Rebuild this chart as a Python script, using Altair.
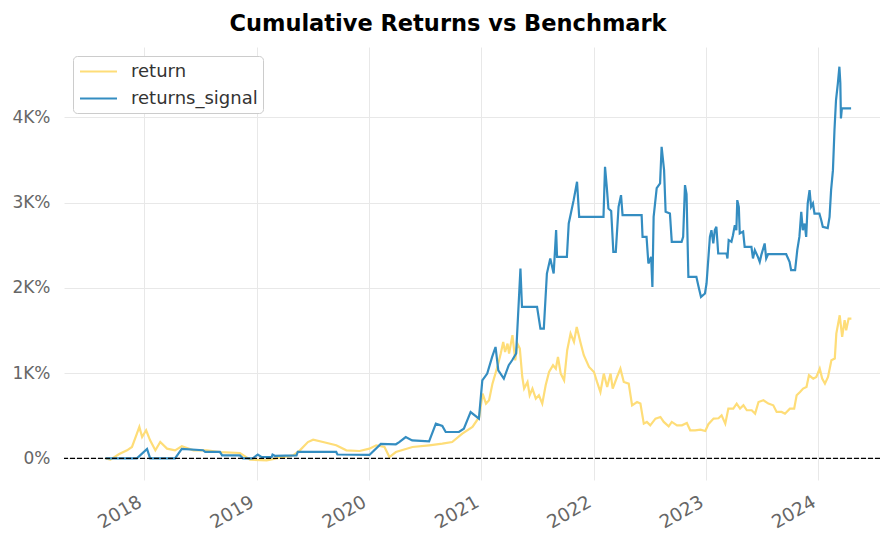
import altair as alt
import pandas as pd

# ---- data (values in percent) ----
ret_dates = [
    "2017-08-28", "2017-09-13", "2017-10-10", "2017-11-06", "2017-11-22", "2017-12-08", "2017-12-16",
    "2017-12-25", "2018-01-07", "2018-01-20", "2018-02-06", "2018-02-22", "2018-03-16", "2018-04-11",
    "2018-05-03", "2018-06-10", "2018-07-23", "2018-09-04", "2018-11-08", "2018-12-11", "2019-02-03",
    "2019-03-18", "2019-04-30", "2019-05-22", "2019-06-17", "2019-07-04", "2019-08-05", "2019-09-17",
    "2019-10-20", "2019-12-02", "2020-01-03", "2020-01-25", "2020-02-21", "2020-03-08", "2020-03-29",
    "2020-05-22", "2020-07-15", "2020-08-27", "2020-09-28", "2020-10-31", "2020-12-03", "2020-12-25",
    "2021-01-05", "2021-01-16", "2021-01-26", "2021-02-06", "2021-02-22", "2021-03-05", "2021-03-13",
    "2021-03-19", "2021-03-27", "2021-04-01", "2021-04-12", "2021-04-21", "2021-04-28", "2021-05-06",
    "2021-05-14", "2021-05-20", "2021-05-31", "2021-06-07", "2021-06-16", "2021-06-27", "2021-07-07",
    "2021-07-18", "2021-07-29", "2021-08-09", "2021-08-22", "2021-08-31", "2021-09-07", "2021-09-16",
    "2021-09-27", "2021-10-07", "2021-10-18", "2021-10-29", "2021-11-07", "2021-11-20", "2021-11-30",
    "2021-12-17", "2022-01-02", "2022-01-12", "2022-01-23", "2022-02-03", "2022-02-14", "2022-02-25",
    "2022-03-04", "2022-03-18", "2022-03-29", "2022-04-09", "2022-04-25", "2022-05-06", "2022-05-22",
    "2022-06-02", "2022-06-13", "2022-06-23", "2022-07-04", "2022-07-21", "2022-08-06", "2022-08-17",
    "2022-09-02", "2022-09-12", "2022-09-29", "2022-10-15", "2022-10-31", "2022-11-11", "2022-11-27",
    "2022-12-14", "2022-12-30", "2023-01-09", "2023-01-26", "2023-02-11", "2023-02-21", "2023-03-05",
    "2023-03-15", "2023-03-31", "2023-04-11", "2023-04-22", "2023-05-03", "2023-05-14", "2023-05-30",
    "2023-06-10", "2023-06-21", "2023-07-07", "2023-07-23", "2023-08-08", "2023-08-19", "2023-09-04",
    "2023-09-15", "2023-10-01", "2023-10-15", "2023-10-23", "2023-11-03", "2023-11-13", "2023-11-24",
    "2023-12-02", "2023-12-16", "2023-12-26", "2024-01-06", "2024-01-14", "2024-01-23", "2024-02-02",
    "2024-02-13", "2024-02-24", "2024-02-29", "2024-03-11", "2024-03-19", "2024-03-27", "2024-04-01",
    "2024-04-09", "2024-04-18",
]
ret_values = [
    0, -15, 47, 94, 133, 290, 368,
    250, 329, 211, 94, 191, 114, 94,
    141, 94, 94, 74, 63, -15, -23,
    8, 35, 94, 191, 219, 191, 153,
    94, 86, 114, 153, 133, 15, 74,
    133, 153, 172, 191, 290, 368, 485,
    759, 642, 681, 876, 1072, 1229, 1365,
    1248, 1346, 1229, 1444, 1150, 1346, 1287,
    954, 818, 896, 739, 818, 700, 739,
    642, 857, 1013, 1092, 1052, 1189, 994,
    915, 1268, 1463, 1365, 1541, 1346, 1209,
    1072, 1013, 896, 778, 994, 837, 994,
    818, 954, 1052, 896, 876, 622, 661,
    642, 407, 427, 387, 466, 485, 427,
    375, 427, 387, 387, 415, 329, 329,
    336, 320, 400, 466, 470, 505, 407,
    583, 583, 642, 583, 622, 564, 564,
    524, 661, 681, 642, 622, 544, 544,
    524, 583, 583, 739, 778, 818, 837,
    974, 935, 954, 1052, 935, 876, 954,
    1150, 1170, 1463, 1678, 1424, 1620, 1502,
    1639, 1639,
]

sig_dates = [
    "2017-08-28", "2017-12-08", "2018-01-10", "2018-01-20", "2018-04-11", "2018-05-03", "2018-07-11",
    "2018-07-18", "2018-09-04", "2018-09-11", "2018-11-08", "2018-11-18", "2018-12-20", "2019-01-05",
    "2019-01-18", "2019-02-19", "2019-02-22", "2019-03-01", "2019-05-11", "2019-05-15", "2019-09-17",
    "2019-09-21", "2020-01-03", "2020-02-09", "2020-03-29", "2020-04-09", "2020-04-30", "2020-05-21",
    "2020-07-15", "2020-08-06", "2020-08-27", "2020-09-07", "2020-10-20", "2020-11-05", "2020-11-16",
    "2020-11-27", "2020-12-24", "2021-01-04", "2021-01-20", "2021-02-05", "2021-02-16", "2021-02-25",
    "2021-03-15", "2021-03-31", "2021-04-11", "2021-04-24", "2021-05-08", "2021-05-13", "2021-07-01",
    "2021-07-12", "2021-07-23", "2021-08-02", "2021-08-13", "2021-08-24", "2021-09-01", "2021-09-04",
    "2021-10-06", "2021-10-12", "2021-10-28", "2021-11-08", "2021-11-15", "2022-02-02", "2022-02-07",
    "2022-02-13", "2022-02-18", "2022-02-27", "2022-03-06", "2022-03-14", "2022-03-23", "2022-03-31",
    "2022-04-05", "2022-06-06", "2022-06-09", "2022-06-22", "2022-06-28", "2022-07-07", "2022-07-11",
    "2022-07-15", "2022-07-25", "2022-08-05", "2022-08-10", "2022-08-18", "2022-08-23", "2022-09-06",
    "2022-09-12", "2022-10-14", "2022-10-19", "2022-10-25", "2022-10-30", "2022-11-05", "2022-12-01",
    "2022-12-07", "2022-12-16", "2022-12-29", "2023-01-03", "2023-01-14", "2023-01-19", "2023-01-25",
    "2023-01-30", "2023-02-04", "2023-02-10", "2023-03-09", "2023-03-12", "2023-03-16", "2023-03-25",
    "2023-03-30", "2023-04-05", "2023-04-10", "2023-04-13", "2023-04-18", "2023-04-21", "2023-05-02",
    "2023-05-07", "2023-05-29", "2023-06-03", "2023-06-09", "2023-06-19", "2023-06-25", "2023-06-30",
    "2023-07-11", "2023-07-16", "2023-07-22", "2023-09-19", "2023-09-30", "2023-10-05", "2023-10-18",
    "2023-10-25", "2023-11-01", "2023-11-07", "2023-11-12", "2023-11-18", "2023-11-23", "2023-11-28",
    "2023-12-04", "2023-12-09", "2023-12-15", "2023-12-20", "2024-01-05", "2024-01-11", "2024-01-16",
    "2024-02-01", "2024-02-07", "2024-02-12", "2024-02-18", "2024-02-23", "2024-02-28", "2024-03-05",
    "2024-03-10", "2024-03-13", "2024-03-15", "2024-03-18", "2024-04-17",
]
sig_values = [
    0, 0, 110, 0, 0, 110, 95,
    75, 75, 35, 35, 0, 0, 45,
    15, 15, 45, 30, 35, 75, 75,
    45, 40, 170, 165, 190, 250, 210,
    200, 407, 380, 309, 309, 348, 446,
    543, 466, 915, 994, 1189, 1306, 1033,
    935, 1092, 1150, 1229, 2226, 1776, 1776,
    1522, 1522, 2167, 2344, 2167, 2676, 2363,
    2363, 2755, 3028, 3243, 2832, 2832, 3419,
    3170, 2930, 2900, 2421, 2421, 2950, 3087,
    2852, 2852, 2597, 2597, 2285, 2363, 2011,
    2832, 3169, 3226, 3654, 3380, 2891, 2871,
    2539, 2539, 2597, 3204, 3100, 2128, 2128,
    2030, 1893, 1933, 2050, 2597, 2676, 2520,
    2676, 2715, 2402, 2402, 2344, 2559, 2540,
    2617, 2735, 2676, 3028, 2950, 2637, 2660,
    2480, 2480, 2344, 2441, 2363, 2304, 2383,
    2520, 2344, 2394, 2394, 2304, 2207, 2207,
    2441, 2600, 2891, 2676, 2754, 2597, 2989,
    3146, 2950, 2989, 2871, 2871, 2793, 2715,
    2700, 2832, 3146, 3380, 3850, 4202, 4398,
    4593, 4400, 3987, 4104, 4104,
]

series_names = ["return", "returns_signal"]
series_colors = ["#fedd78", "#348dc1"]
y_ticks = [0, 1000, 2000, 3000, 4000]

df = pd.concat([
    pd.DataFrame({"date": pd.to_datetime(ret_dates), "value": ret_values, "series": series_names[0], "k": 0}),
    pd.DataFrame({"date": pd.to_datetime(sig_dates), "value": sig_values, "series": series_names[1], "k": 1}),
], ignore_index=True)

FONT = "DejaVu Sans"
GRID = "#e8e8e8"

x_enc = alt.X(
    "date:T",
    scale=alt.Scale(domain=[alt.DateTime(year=2017, month=4, date=15),
                            alt.DateTime(year=2024, month=7, date=20)], nice=False),
    axis=alt.Axis(
        title=None, format="%Y", tickCount={"interval": "year", "step": 1},
        labelAngle=-30, labelAlign="right", labelBaseline="top",
        labelFontSize=18.5, labelColor="#666666", labelPadding=12, labelOffset=-9,
        grid=True, gridColor=GRID, domain=False, ticks=False, labelFont=FONT,
    ),
)
y_scale = alt.Scale(domain=[-254, 4824], nice=False, zero=False)

lines = alt.Chart(df).mark_line(strokeWidth=2.2, interpolate="linear").encode(
    x=x_enc,
    y=alt.Y(
        "value:Q", scale=y_scale,
        axis=alt.Axis(
            title=None, values=y_ticks,
            labelExpr="datum.value == 0 ? '0%' : format(datum.value / 1000, 'd') + 'K%'",
            labelFontSize=17, labelColor="#666666", labelPadding=14,
            grid=True, gridColor=GRID, domain=False, ticks=False, labelFont=FONT,
        ),
    ),
    color=alt.Color(
        "series:N",
        scale=alt.Scale(domain=series_names, range=series_colors),
        legend=alt.Legend(
            title=None, orient="none", legendX=9, legendY=9,
            symbolType="M-2,0L2,0", symbolSize=342, symbolStrokeWidth=2,
            symbolOffset=10,
            labelFontSize=18, labelColor="#333333", labelFont=FONT, labelOffset=22,
            rowPadding=7, padding=5, strokeColor="#cccccc", fillColor="white",
            cornerRadius=4,
        ),
    ),
    order=alt.Order("k:Q"),
)

zero = alt.Chart(pd.DataFrame({"y": [0]})).mark_rule(
    color="black", strokeWidth=1.3, strokeDash=[5, 2]
).encode(y=alt.Y("y:Q", scale=y_scale))

chart = alt.layer(lines, zero).properties(
    width=816, height=433,
    title=alt.TitleParams(
        "Cumulative Returns vs Benchmark", fontSize=22.5, fontWeight="bold",
        font=FONT, color="black", anchor="middle", dx=-24, offset=12,
    ),
    autosize=alt.AutoSizeParams(type="none"),
    padding={"left": 56, "top": 39, "right": 0, "bottom": 53},
).configure_view(stroke=None)

chart.save("out.html", embed_options={"renderer": "svg", "actions": False})
